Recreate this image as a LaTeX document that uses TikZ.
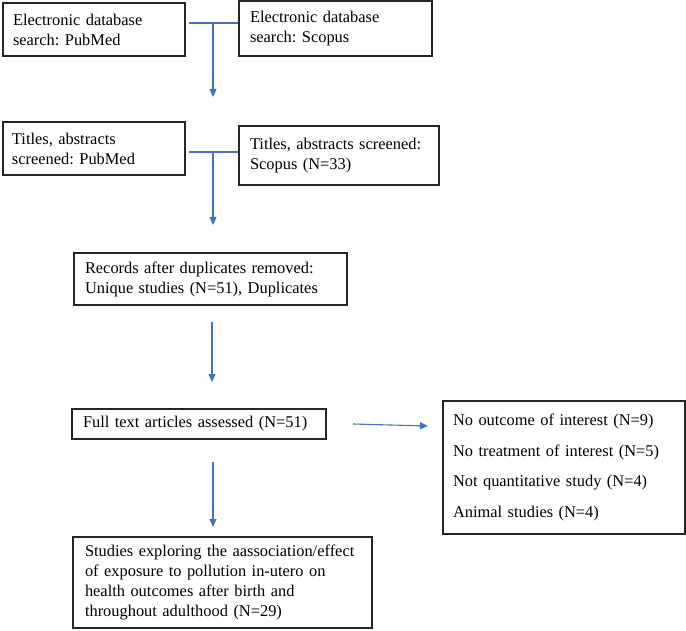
\documentclass[tikz,border=0pt]{standalone}
\usepackage{fontspec}
\setmainfont{Liberation Serif}
\usetikzlibrary{arrows.meta,calc}
\definecolor{arrowblue}{HTML}{4472C4}
\definecolor{boxline}{HTML}{262626}
\frenchspacing
\hyphenpenalty=10000
\exhyphenpenalty=10000
\begin{document}
\begin{tikzpicture}[x=1pt,y=-1pt,
  box/.style={draw=boxline,line width=1.2pt,inner ysep=0pt,align=left,anchor=center,
    font=\fontsize{16.4}{20}\selectfont},
  conn/.style={draw=arrowblue,line width=1.1pt},
  arr/.style={conn,-{Triangle[length=8pt,width=7pt]}}]
\useasboundingbox[fill=white] (0,0) rectangle (686,631);

\node[box,inner xsep=10pt,text width=162pt,minimum height=53pt] (B1) at (94,29.5)
  {Electronic database\\search: PubMed};
\node[box,inner xsep=11pt,text width=171pt,minimum height=55pt] (B2) at (335.5,28.5)
  {Electronic database\\search: Scopus};
\node[box,inner xsep=9pt,text width=164pt,minimum height=53pt] (B3) at (94,148.5)
  {Titles, abstracts\\screened: PubMed};
\node[box,inner xsep=11pt,text width=178pt,minimum height=59pt] (B4) at (339,155.5)
  {Titles, abstracts screened:\\Scopus (N=33)\\[-9pt]};
\node[box,inner xsep=11pt,text width=251pt,minimum height=52pt] (R) at (210.5,279)
  {Records after duplicates removed:\\Unique studies (N=51), Duplicates};
\node[box,inner xsep=11pt,text width=232pt,minimum height=30pt] (F) at (199,424)
  {Full text articles assessed (N=51)};
\node[box,inner xsep=10pt,text width=222pt,minimum height=133pt,
  font=\fontsize{16.4}{30.5}\selectfont] (E) at (564,467.5)
  {No outcome of interest (N=9)\\No treatment of interest (N=5)\\Not quantitative study (N=4)\\Animal studies (N=4)\\[-10pt]};
\node[box,inner xsep=12pt,text width=275pt,minimum height=91pt] (S) at (222.5,582.5)
  {Studies exploring the aassociation/effect\\of exposure to pollution in-utero on\\health outcomes after birth and\\throughout adulthood (N=29)};

% first junction
\coordinate (j1) at (213,23);
\coordinate (e1) at (213,97);
\draw[conn] ([xshift=3pt]B1.east |- j1) -- (B2.west |- j1);
\draw[arr] (j1) -- (e1);

% second junction
\coordinate (j2) at (213,152);
\coordinate (e2) at (213,225);
\draw[conn] ([xshift=3pt]B3.east |- j2) -- (B4.west |- j2);
\draw[arr] (j2) -- (e2);

% records -> full text
\coordinate (s3) at (212,322);
\coordinate (e3) at (212,382);
\draw[arr] (s3) -- (e3);

% full text -> exclusions
\coordinate (s4) at (353,424);
\coordinate (e4) at (428,426);
\draw[arr] (s4) -- (e4);

% full text -> final
\coordinate (s5) at (213,462);
\coordinate (e5) at (213,527);
\draw[arr] (s5) -- (e5);
\end{tikzpicture}
\end{document}
